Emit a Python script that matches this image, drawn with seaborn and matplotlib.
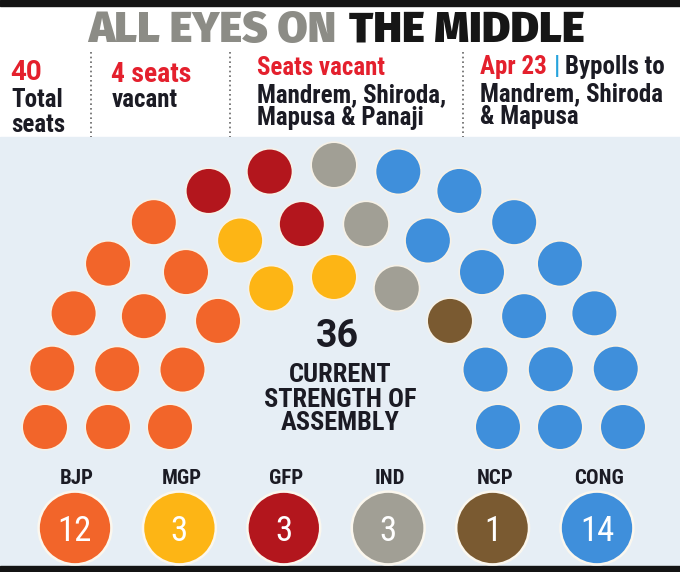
import numpy as np
import pandas as pd
import matplotlib.pyplot as plt
import seaborn as sns

# party strength in the 36-member house
parties = ['BJP', 'MGP', 'GFP', 'IND', 'NCP', 'CONG']
seats = [12, 3, 3, 3, 1, 14]
colors = ['#f2652a', '#fdb515', '#b3161d', '#a19f95', '#7a5a31', '#3f8fdb']

# how the seats are split over the three arcs (outer, middle, inner)
outer_row = [5, 0, 2, 1, 0, 7]
middle_row = [4, 1, 1, 1, 0, 5]
inner_row = [3, 2, 0, 1, 1, 2]

title_grey = 'ALL EYES ON'
title_black = 'THE MIDDLE'
total_seats = '40'
vacant_seats = '4 seats'
current_strength = '36'

sns.set_style('white')
COND = ['Roboto Condensed', 'DejaVu Sans']
HEAVY = ['Fira Sans', 'Fira Sans Condensed', 'DejaVu Sans']
WIDE = ['Roboto', 'DejaVu Sans']
RED = '#e4202d'
DARK = '#1b1b24'
BODY = 18

fig = plt.figure(figsize=(6.8, 5.72), dpi=100)
ax = fig.add_axes([0, 0, 1, 1])

# panels
ax.axhspan(0, 6, color='#141414', zorder=0)
ax.axhspan(137, 566, color='#e6eef5', zorder=0)
ax.axhspan(566, 572, color='#141414', zorder=0)

# hemicycle seats
cx, cy = 334, 427
rows = [(outer_row, 289, 262), (middle_row, 226, 205), (inner_row, 164, 150)]
frames = []
for counts, rx, ry in rows:
    ang = np.linspace(np.pi, 0, sum(counts))
    frames.append(pd.DataFrame({
        'x': cx + rx * np.cos(ang),
        'y': cy - ry * np.sin(ang),
        'party': np.repeat(parties, counts),
    }))
seat_df = pd.concat(frames, ignore_index=True)
sns.scatterplot(data=seat_df, x='x', y='y', hue='party', hue_order=parties,
                palette=colors, s=1080, edgecolor='#f6f1e7', linewidth=1.2,
                legend=False, ax=ax, zorder=3)

# party totals along the bottom
leg_df = pd.DataFrame({'party': parties, 'seats': seats})
leg_df['x'] = 75 + 104.4 * np.arange(len(parties))
leg_df['y'] = 528
sns.scatterplot(data=leg_df, x='x', y='y', hue='party', hue_order=parties,
                palette=colors, s=2750, edgecolor='#fbf7ee', linewidth=1.8,
                legend=False, ax=ax, zorder=3)
for _, r in leg_df.iterrows():
    ax.text(r['x'] + 2, 484, r['party'], family=COND, weight='bold',
            fontsize=15, color=DARK, ha='center', va='baseline')
    ax.text(r['x'], 541, str(r['seats']), family=COND, fontsize=25,
            color='white', ha='center', va='baseline', zorder=4)

# centre label
ax.text(337, 347, current_strength, family=WIDE, weight='bold', fontsize=27,
        color=DARK, ha='center', va='baseline')
for txt, yb in [('CURRENT', 382), ('STRENGTH OF', 407), ('ASSEMBLY', 430)]:
    ax.text(340, yb, txt, family=COND, weight='bold', fontsize=19,
            color=DARK, ha='center', va='baseline')

# title
ax.text(336, 42, title_grey, family=HEAVY, weight=900, fontsize=31.5,
        color='#8c8c86', ha='right', va='baseline')
ax.text(349, 42, title_black, family=HEAVY, weight=900, fontsize=31.5,
        color='#161616', ha='left', va='baseline')

# header columns
for xs in [91, 230, 463]:
    ax.plot([xs, xs], [52, 137], ls=(0, (1, 1.8)), lw=1.2, color='#666666')

ax.text(10, 80, total_seats, family=WIDE, weight='bold', fontsize=20,
        color=RED, va='baseline')
ax.text(11, 107, 'Total', family=COND, weight='bold', fontsize=BODY,
        color=DARK, va='baseline')
ax.text(11, 132, 'seats', family=COND, weight='bold', fontsize=BODY,
        color=DARK, va='baseline')

ax.text(111, 82, vacant_seats, family=COND, weight='bold', fontsize=20,
        color=RED, va='baseline')
ax.text(112, 107, 'vacant', family=COND, weight='bold', fontsize=BODY,
        color=DARK, va='baseline')

ax.text(257, 75, 'Seats vacant', family=COND, weight='bold', fontsize=BODY,
        color=RED, va='baseline')
ax.text(257, 102, 'Mandrem, Shiroda,', family=COND, weight='bold',
        fontsize=BODY, color=DARK, va='baseline')
ax.text(257, 125, 'Mapusa & Panaji', family=COND, weight='bold',
        fontsize=BODY, color=DARK, va='baseline')

ax.text(480, 74, 'Apr 23', family=COND, weight='bold', fontsize=BODY,
        color=RED, va='baseline')
ax.text(554, 74, '|', family=COND, weight='bold', fontsize=BODY,
        color='#27a3dc', va='baseline')
ax.text(565, 74, 'Bypolls to', family=COND, weight='bold', fontsize=BODY,
        color=DARK, va='baseline')
ax.text(480, 101, 'Mandrem, Shiroda', family=COND, weight='bold',
        fontsize=BODY, color=DARK, va='baseline')
ax.text(480, 124, '& Mapusa', family=COND, weight='bold', fontsize=BODY,
        color=DARK, va='baseline')

ax.set_xlim(0, 680)
ax.set_ylim(572, 0)
ax.set_axis_off()
fig.savefig('out.png', dpi=100)
